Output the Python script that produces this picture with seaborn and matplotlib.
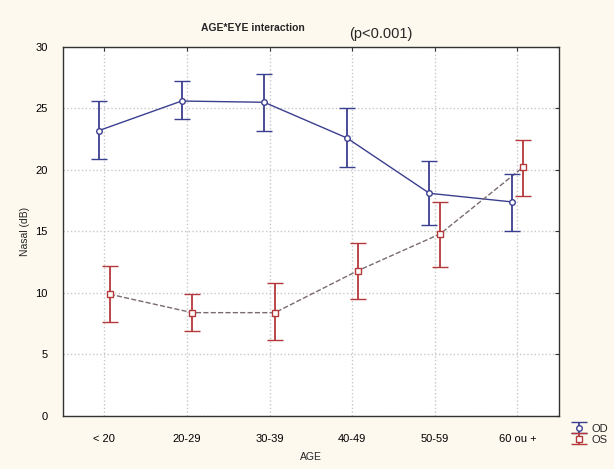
import numpy as np
import pandas as pd
import matplotlib
matplotlib.use("Agg")
import matplotlib.pyplot as plt
import seaborn as sns

ages = ["< 20", "20-29", "30-39", "40-49", "50-59", "60 ou +"]
od_mean = [23.2, 25.6, 25.5, 22.6, 18.1, 17.4]
od_low = [20.9, 24.1, 23.2, 20.2, 15.5, 15.0]
od_high = [25.6, 27.2, 27.8, 25.0, 20.7, 19.7]
os_mean = [9.9, 8.4, 8.4, 11.8, 14.8, 20.2]
os_low = [7.6, 6.9, 6.2, 9.5, 12.1, 17.9]
os_high = [12.2, 9.9, 10.8, 14.1, 17.4, 22.4]
yticks = [0, 5, 10, 15, 20, 25, 30]

sns.set_style("whitegrid")
plt.rcParams["font.family"] = ["Liberation Sans", "DejaVu Sans"]

df = pd.DataFrame({
    "age": ages * 2,
    "eye": ["OD"] * 6 + ["OS"] * 6,
    "mean": od_mean + os_mean,
    "low": od_low + os_low,
    "high": od_high + os_high,
})

fig = plt.figure(figsize=(6.14, 4.69), dpi=100, facecolor="#fdf9ef")
ax = fig.add_axes([0.1026, 0.113, 0.8074, 0.787])
ax.set_facecolor("white")

styles = {
    "OD": dict(color="#3b3f8f", marker="o", ls="-", off=-0.065),
    "OS": dict(color="#b5383a", marker="s", ls="--", off=0.065),
}
handles = []
for eye, g in df.groupby("eye"):
    st = styles[eye]
    x = np.arange(len(g)) + st["off"]
    yerr = np.vstack([g["mean"] - g["low"], g["high"] - g["mean"]])
    line_color = st["color"] if eye == "OD" else "#7a6a70"
    ax.plot(x, g["mean"], ls=st["ls"], color=line_color, lw=1.0, zorder=2)
    h = ax.errorbar(x, g["mean"], yerr=yerr, fmt=st["marker"], color=st["color"],
                    mfc="white", mec=st["color"], ms=4, mew=1.0,
                    elinewidth=1.3, capsize=5.5, capthick=1.3, zorder=3)
    handles.append((h, eye))

ax.set_xlim(-0.5, 5.5)
ax.set_ylim(0, 30)
ax.set_xticks(range(len(ages)))
ax.set_xticklabels(ages, fontsize=8)
ax.set_yticks(yticks)
ax.set_yticklabels([str(v) for v in yticks], fontsize=8)
ax.grid(True, color="#c8c8c8", ls=":", lw=1.0)
for s in ax.spines.values():
    s.set_color("#333333")
    s.set_linewidth(1.0)
ax.tick_params(axis="both", which="both", direction="in", length=3,
               top=True, right=True, colors="#333333", labelcolor="black")
ax.tick_params(axis="x", pad=13)
ax.tick_params(axis="y", pad=11)

ax.set_xlabel("AGE", fontsize=7.5, labelpad=6)
ax.set_ylabel("Nasal (dB)", fontsize=7.5, labelpad=4)

fig.text(0.412, 0.94, "AGE*EYE interaction", fontsize=7.5, fontweight="bold",
         ha="center", va="center")
fig.text(0.62, 0.928, "(p<0.001)", fontsize=10.5, ha="center", va="center")

fig.legend([h for h, _ in handles], [e for _, e in handles],
           loc="lower left", bbox_to_anchor=(0.92, 0.04), frameon=False,
           fontsize=8, handlelength=1.6, handletextpad=0.3, borderpad=0,
           labelspacing=0.1)

fig.savefig("out.png", dpi=100, facecolor=fig.get_facecolor())
